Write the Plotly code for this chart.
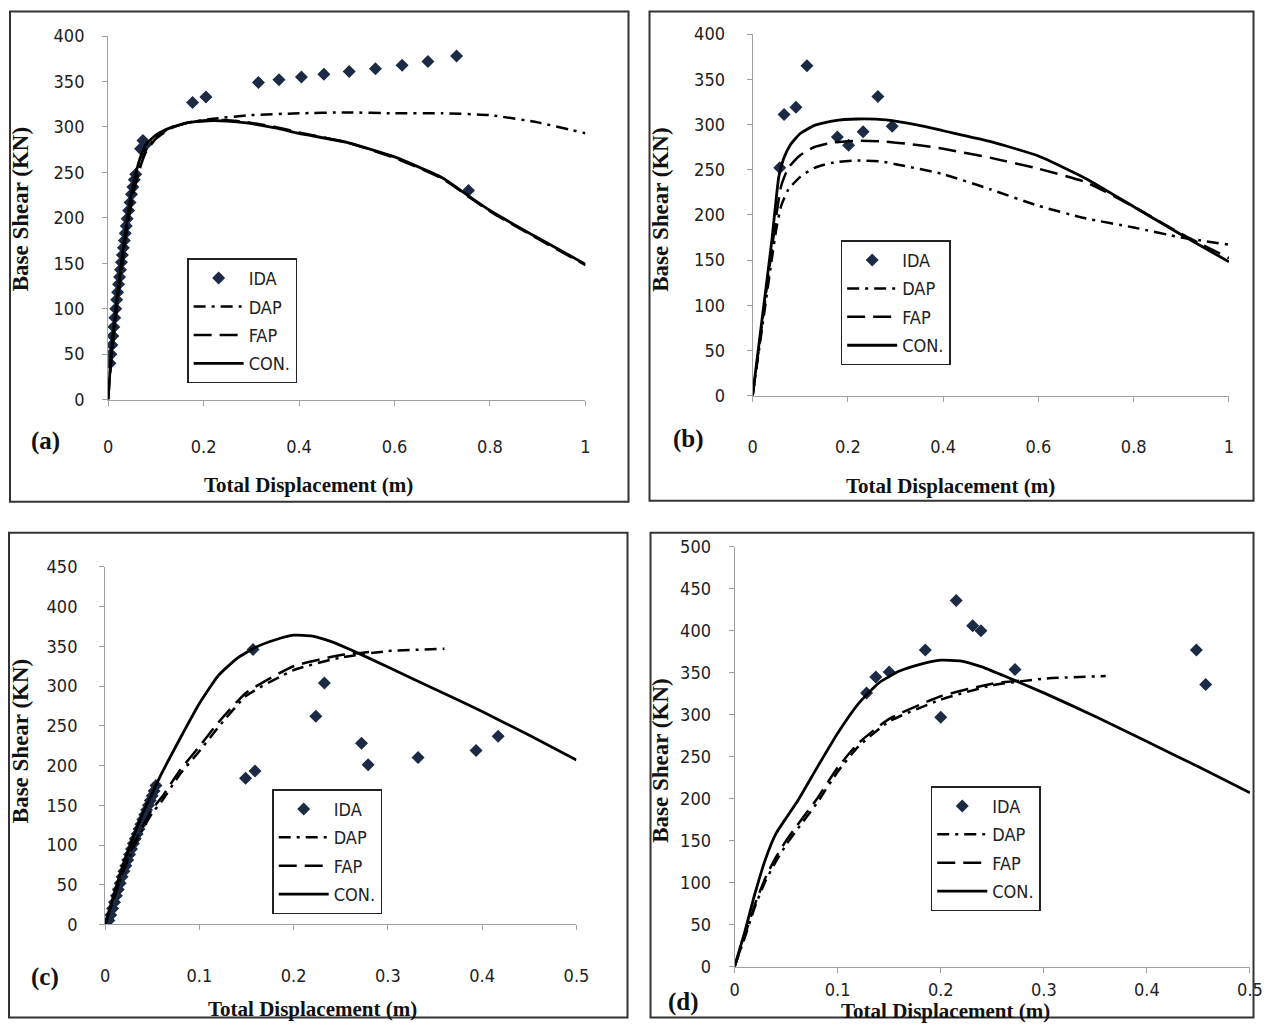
import plotly.graph_objects as go

W, H = 1267, 1028

# ---------------- Panel (a) ----------------
a_ida_x = [0.004, 0.006, 0.008, 0.010, 0.012, 0.014, 0.016, 0.018, 0.020, 0.022, 0.024, 0.026,
           0.028, 0.030, 0.032, 0.034, 0.036, 0.038, 0.040, 0.043, 0.046, 0.049, 0.052, 0.055,
           0.058, 0.068, 0.073, 0.078, 0.177, 0.205, 0.315, 0.358, 0.405, 0.452, 0.505, 0.56,
           0.616, 0.67, 0.73, 0.755]
a_ida_y = [40, 50, 60, 70, 80, 90, 100, 110, 118, 127, 135, 143, 151, 159, 167, 175, 183, 191,
           199, 208, 217, 226, 234, 242, 248, 276, 285, 280, 327, 333, 349, 352, 355, 358, 361,
           364, 368, 372, 378, 230]
a_dap_x = [0, 0.005, 0.01, 0.02, 0.03, 0.04, 0.05, 0.06, 0.07, 0.08, 0.1, 0.13, 0.17, 0.22, 0.3,
           0.4, 0.5, 0.6, 0.7, 0.8, 0.9, 1.0]
a_dap_y = [0, 35, 62, 110, 152, 190, 220, 243, 262, 275, 288, 299, 305, 309, 313, 315, 316, 315,
           315, 313, 305, 293]
a_fap_x = [0, 0.005, 0.01, 0.02, 0.03, 0.04, 0.05, 0.06, 0.07, 0.08, 0.1, 0.13, 0.17, 0.22, 0.28,
           0.35, 0.4, 0.5, 0.6, 0.7, 0.8, 0.9, 1.0]
a_fap_y = [0, 35, 62, 110, 152, 190, 220, 243, 260, 273, 287, 298, 305, 308, 306, 300, 294, 283,
           266, 243, 207, 177, 148]
a_con_x = [0, 0.005, 0.01, 0.02, 0.03, 0.04, 0.05, 0.06, 0.07, 0.08, 0.1, 0.13, 0.17, 0.22, 0.28,
           0.35, 0.4, 0.5, 0.6, 0.7, 0.755, 0.8, 0.9, 1.0]
a_con_y = [0, 40, 70, 118, 160, 198, 230, 253, 270, 281, 291, 299, 305, 307, 305, 299, 293, 283,
           267, 244, 224, 208, 178, 149]

# ---------------- Panel (b) ----------------
b_ida_x = [0.057, 0.066, 0.091, 0.114, 0.178, 0.2015, 0.232, 0.263, 0.293]
b_ida_y = [252, 311, 319, 365, 286, 277, 292, 331, 298]
b_dap_x = [0, 0.02, 0.04, 0.05, 0.06, 0.075, 0.1, 0.13, 0.17, 0.22, 0.27, 0.3, 0.4, 0.5, 0.6,
           0.7, 0.8, 0.9, 1.0]
b_dap_y = [0, 75, 150, 185, 210, 228, 242, 252, 258, 260, 259, 256, 245, 228, 210, 196, 186,
           175, 167]
b_fap_x = [0, 0.02, 0.04, 0.05, 0.06, 0.075, 0.1, 0.13, 0.17, 0.22, 0.28, 0.35, 0.4, 0.5, 0.6,
           0.7, 0.8, 0.9, 1.0]
b_fap_y = [0, 80, 160, 200, 232, 252, 266, 275, 280, 282, 281, 277, 273, 263, 251, 236, 209,
           179, 152]
b_con_x = [0, 0.02, 0.04, 0.055, 0.065, 0.08, 0.1, 0.13, 0.17, 0.22, 0.28, 0.35, 0.4, 0.5, 0.6,
           0.7, 0.8, 0.9, 1.0]
b_con_y = [0, 85, 170, 242, 262, 278, 290, 299, 304, 306, 305, 299, 293, 281, 265, 240, 209,
           178, 148]

# ---------------- Panel (c) ----------------
c_ida_x = [0.004, 0.006, 0.008, 0.010, 0.012, 0.014, 0.016, 0.018, 0.020, 0.022, 0.024, 0.026,
           0.028, 0.030, 0.032, 0.034, 0.036, 0.038, 0.040, 0.042, 0.044, 0.046, 0.048, 0.050,
           0.052, 0.054, 0.149, 0.157, 0.159, 0.2235, 0.2326, 0.272, 0.279, 0.332, 0.3935, 0.417]
c_ida_y = [5, 12, 20, 28, 36, 44, 52, 60, 67, 74, 81, 88, 95, 102, 108, 114, 120, 126, 132, 138,
           144, 150, 156, 162, 168, 175, 184, 346, 193, 262, 304, 228, 201, 210, 219, 237]
c_dap_x = [0, 0.01, 0.02, 0.03, 0.04, 0.05, 0.06, 0.08, 0.1, 0.12, 0.15, 0.2, 0.25, 0.3, 0.36]
c_dap_y = [0, 35, 68, 97, 120, 140, 155, 190, 218, 248, 288, 320, 336, 344, 347]
c_fap_x = [0, 0.01, 0.02, 0.03, 0.04, 0.05, 0.06, 0.08, 0.1, 0.12, 0.15, 0.2, 0.25, 0.28]
c_fap_y = [0, 36, 70, 100, 124, 145, 160, 195, 224, 254, 292, 325, 339, 343]
c_con_x = [0, 0.01, 0.02, 0.03, 0.04, 0.05, 0.06, 0.08, 0.1, 0.12, 0.14, 0.16, 0.18, 0.2, 0.22,
           0.24, 0.26, 0.3, 0.35, 0.4, 0.45, 0.5]
c_con_y = [0, 40, 78, 110, 140, 165, 190, 235, 278, 313, 335, 349, 358, 364, 363, 356, 346, 324,
           296, 268, 238, 207]

# ---------------- Panel (d) ----------------
d_ida_x = [0.128, 0.137, 0.15, 0.185, 0.2, 0.215, 0.231, 0.239, 0.272, 0.448, 0.457]
d_ida_y = [326, 345, 351, 377, 297, 436, 406, 400, 354, 377, 336]
d_dap_x = [0, 0.01, 0.02, 0.03, 0.04, 0.05, 0.06, 0.08, 0.1, 0.12, 0.15, 0.2, 0.25, 0.3, 0.36]
d_dap_y = [0, 35, 72, 102, 125, 145, 162, 195, 232, 262, 292, 318, 335, 343, 346]
d_fap_x = [0, 0.01, 0.02, 0.03, 0.04, 0.05, 0.06, 0.08, 0.1, 0.12, 0.15, 0.2, 0.25, 0.28]
d_fap_y = [0, 37, 75, 106, 130, 150, 167, 200, 237, 266, 295, 322, 337, 341]
d_con_x = [0, 0.01, 0.02, 0.03, 0.04, 0.05, 0.06, 0.08, 0.1, 0.12, 0.14, 0.16, 0.18, 0.2, 0.22,
           0.24, 0.26, 0.3, 0.35, 0.4, 0.45, 0.5]
d_con_y = [0, 42, 88, 128, 158, 177, 195, 237, 278, 313, 338, 352, 360, 365, 364, 357, 347, 326,
           298, 268, 238, 207]

series_names = ["IDA", "DAP", "FAP", "CON."]
panel_labels = ["(a)", "(b)", "(c)", "(d)"]
x_title = "Total Displacement (m)"
y_title = "Base Shear (KN)"

panels = [
    dict(ida=(a_ida_x, a_ida_y), dap=(a_dap_x, a_dap_y), fap=(a_fap_x, a_fap_y), con=(a_con_x, a_con_y),
         xr=[0, 1], xd=0.2, yr=[0, 400], px=(108, 585), py=(36, 399),
         frame=(10, 5, 628, 501), leg=(187, 258), lab=(45, 440), xt=(308, 484), yt=(20, 209),
         xstand=26, ystand=14),
    dict(ida=(b_ida_x, b_ida_y), dap=(b_dap_x, b_dap_y), fap=(b_fap_x, b_fap_y), con=(b_con_x, b_con_y),
         xr=[0, 1], xd=0.2, yr=[0, 400], px=(752, 1228), py=(34, 395),
         frame=(649, 5, 1263, 500), leg=(840, 240), lab=(688, 438), xt=(950, 485), yt=(660, 210),
         xstand=30, ystand=18),
    dict(ida=(c_ida_x, c_ida_y), dap=(c_dap_x, c_dap_y), fap=(c_fap_x, c_fap_y), con=(c_con_x, c_con_y),
         xr=[0, 0.5], xd=0.1, yr=[0, 450], px=(105, 576), py=(566, 923),
         frame=(9, 532, 627, 1022), leg=(272, 788), lab=(45, 975), xt=(312, 1007), yt=(20, 740),
         xstand=30, ystand=18),
    dict(ida=(d_ida_x, d_ida_y), dap=(d_dap_x, d_dap_y), fap=(d_fap_x, d_fap_y), con=(d_con_x, d_con_y),
         xr=[0, 0.5], xd=0.1, yr=[0, 500], px=(734, 1249), py=(546, 965),
         frame=(650, 532, 1264, 1026), leg=(930, 785), lab=(683, 1000), xt=(945, 1009), yt=(660, 760),
         xstand=2, ystand=14),
]

# calibration of the photographed page (observed offset / scale of the rendered canvas)
OX, SX, OY, SY = 5.0, 0.985, 11.0, 0.978


def fx(v):
    return min(max((v - OX) / SX, 0.5), W - 0.5) / W


def fy(v):
    return 1 - min(max((v - OY) / SY, 0.5), H - 0.5) / H


sans = "Liberation Sans Narrow, DejaVu Sans Condensed, Lato, sans-serif"
tick_font = dict(family=sans, size=18, color="#222")
serif = "Liberation Serif, Times New Roman, serif"

fig = go.Figure()
layout = dict(width=W, height=H, margin=dict(l=0, r=0, t=0, b=0),
              paper_bgcolor="white", plot_bgcolor="white", showlegend=True,
              shapes=[], annotations=[])

for i, p in enumerate(panels):
    n = "" if i == 0 else str(i + 1)
    xa, ya = "x" + n, "y" + n
    lg = "legend" + n
    styles = [
        ("ida", dict(mode="markers", marker=dict(symbol="diamond", size=10, color="#1b2b45"))),
        ("dap", dict(mode="lines", line=dict(color="black", width=2.5, dash="12px,6px,3px,6px", shape="spline", smoothing=0.5))),
        ("fap", dict(mode="lines", line=dict(color="black", width=2.5, dash="18px,8px", shape="spline", smoothing=0.5))),
        ("con", dict(mode="lines", line=dict(color="black", width=2.8, shape="spline", smoothing=0.5))),
    ]
    for (key, st), name in zip(styles, series_names):
        xs, ys = p[key]
        fig.add_trace(go.Scatter(x=xs, y=ys, name=name, xaxis=xa, yaxis=ya, legend=lg,
                                 legendgroup=f"{i}_{key}", **st))
    x0, x1 = p["px"]
    yt0, yb0 = p["py"]
    ax_common = dict(showline=True, linecolor="#a0a0a0", linewidth=1, showgrid=False, zeroline=False,
                     ticks="outside", ticklen=5, tickcolor="#a0a0a0", tickfont=tick_font)
    layout["xaxis" + n] = dict(domain=[fx(x0), fx(x1)], range=p["xr"], dtick=p["xd"], tick0=0,
                               anchor=ya, ticklabelstandoff=p["xstand"], **ax_common)
    layout["yaxis" + n] = dict(domain=[fy(yb0), fy(yt0)], range=p["yr"], dtick=50, tick0=0,
                               anchor=xa, ticklabelstandoff=p["ystand"], **ax_common)
    lx, ly = p["leg"]
    layout[lg] = dict(x=fx(lx), y=fy(ly), xanchor="left", yanchor="top", xref="paper", yref="paper",
                      bgcolor="white", bordercolor="#222", borderwidth=1.5,
                      font=dict(family=sans, size=18, color="#222"),
                      traceorder="grouped", tracegroupgap=2, itemwidth=50)
    f0, g0, f1, g1 = p["frame"]
    layout["shapes"].append(dict(type="rect", xref="paper", yref="paper", x0=fx(f0), x1=fx(f1),
                                 y0=fy(g1), y1=fy(g0), line=dict(color="#333", width=2)))
    labx, laby = p["lab"]
    layout["annotations"].append(dict(text="<b>" + panel_labels[i] + "</b>", x=fx(labx), y=fy(laby),
                                      xref="paper", yref="paper", showarrow=False,
                                      xanchor="center", yanchor="middle",
                                      font=dict(family=serif, size=25, color="#111")))
    tx, ty = p["xt"]
    layout["annotations"].append(dict(text="<b>" + x_title + "</b>", x=fx(tx), y=fy(ty),
                                      xref="paper", yref="paper", showarrow=False,
                                      xanchor="center", yanchor="middle",
                                      font=dict(family=serif, size=21, color="#111")))
    vx, vy = p["yt"]
    layout["annotations"].append(dict(text="<b>" + y_title + "</b>", x=fx(vx), y=fy(vy),
                                      xref="paper", yref="paper", showarrow=False, textangle=-90,
                                      xanchor="center", yanchor="middle",
                                      font=dict(family=serif, size=23, color="#111")))

fig.update_layout(**layout)

post = ("document.documentElement.style.margin='0';document.documentElement.style.overflow='hidden';"
        "document.body.style.margin='0';document.body.style.padding='0';document.body.style.overflow='hidden';")
fig.write_html("out.html", config={"displayModeBar": False}, post_script=post)
